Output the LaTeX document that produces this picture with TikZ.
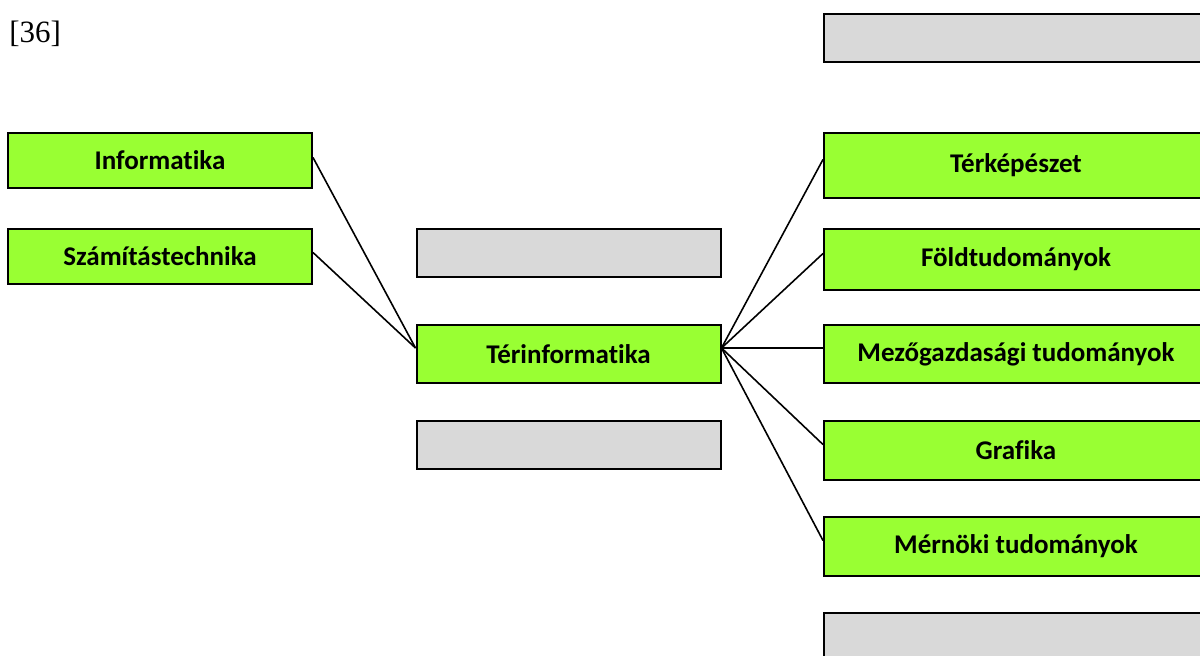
\documentclass[tikz,border=0pt]{standalone}
\usepackage{fontspec}
\setmainfont{Liberation Serif}
\newfontfamily\labelfont[Ligatures=NoCommon]{Carlito}
\usepackage{tikz}
\usetikzlibrary{positioning}
\definecolor{boxgreen}{RGB}{153,255,51}
\definecolor{boxgray}{RGB}{217,217,217}
\tikzset{
 a/.style
  = {inner sep=0pt, font=\fontsize{15.5}{18}\selectfont},
 b/.style
  = {rectangle, draw, fill=boxgreen, minimum width=152pt, minimum height=29pt,
     inner sep=0pt, line width=1pt, font=\labelfont\bfseries\fontsize{13.5}{16}\selectfont},
 c/.style
  = {rectangle, draw, fill=boxgray, minimum width=152pt, minimum height=24pt,
     inner sep=0pt, line width=1pt},
 wide/.style
  = {minimum width=192pt},
 l/.style
  = {draw, line width=0.8pt}
}

\begin{document}
\begin{tikzpicture}
    \useasboundingbox (0pt,0pt) rectangle (600pt,-327.5pt);
    \node [a, anchor=west] (ref) at (4.5pt,-17pt) {[36]};

    % left column
    \node [b, minimum height=27.5pt] (informatika) at (80pt,-80.25pt) {Informatika};
    \node [b, minimum height=27.5pt, below=19.5pt of informatika] (szamitas) {Számítástechnika};

    % middle column
    \node [c] (emptya) at (284.25pt,-126.5pt) {};
    \node [b, below=23pt of emptya] (terinfo) {Térinformatika};
    \node [c, below=18pt of terinfo] (emptyb) {};

    % right column
    \node [c, wide] (emptyc) at (508pt,-19pt) {};
    \node [b, wide, minimum height=32.5pt, below=34.5pt of emptyc] (terkep) {Térképészet};
    \node [b, wide, minimum height=30.5pt, below=14.5pt of terkep] (fold) {Földtudományok};
    \node [b, wide, below=16.5pt of fold] (mezo) {Mezőgazdasági tudományok};
    \node [b, wide, minimum height=29.5pt, below=18pt of mezo] (grafika) {Grafika};
    \node [b, wide, minimum height=29.5pt, below=17.5pt of grafika] (mernoki) {Mérnöki tudományok};
    \node [c, wide, below=17.5pt of mernoki] (emptyd) {};

    \path [l] ([yshift=1.5pt]informatika.east) -- ([yshift=3pt]terinfo.west);
    \path [l] ([yshift=2pt]szamitas.east) -- ([yshift=3pt]terinfo.west);
    \foreach \target in {terkep, fold, mezo, grafika, mernoki}
      \path [l] ([yshift=3pt]terinfo.east) -- ([yshift=3pt]\target.west);
\end{tikzpicture}
\end{document}
